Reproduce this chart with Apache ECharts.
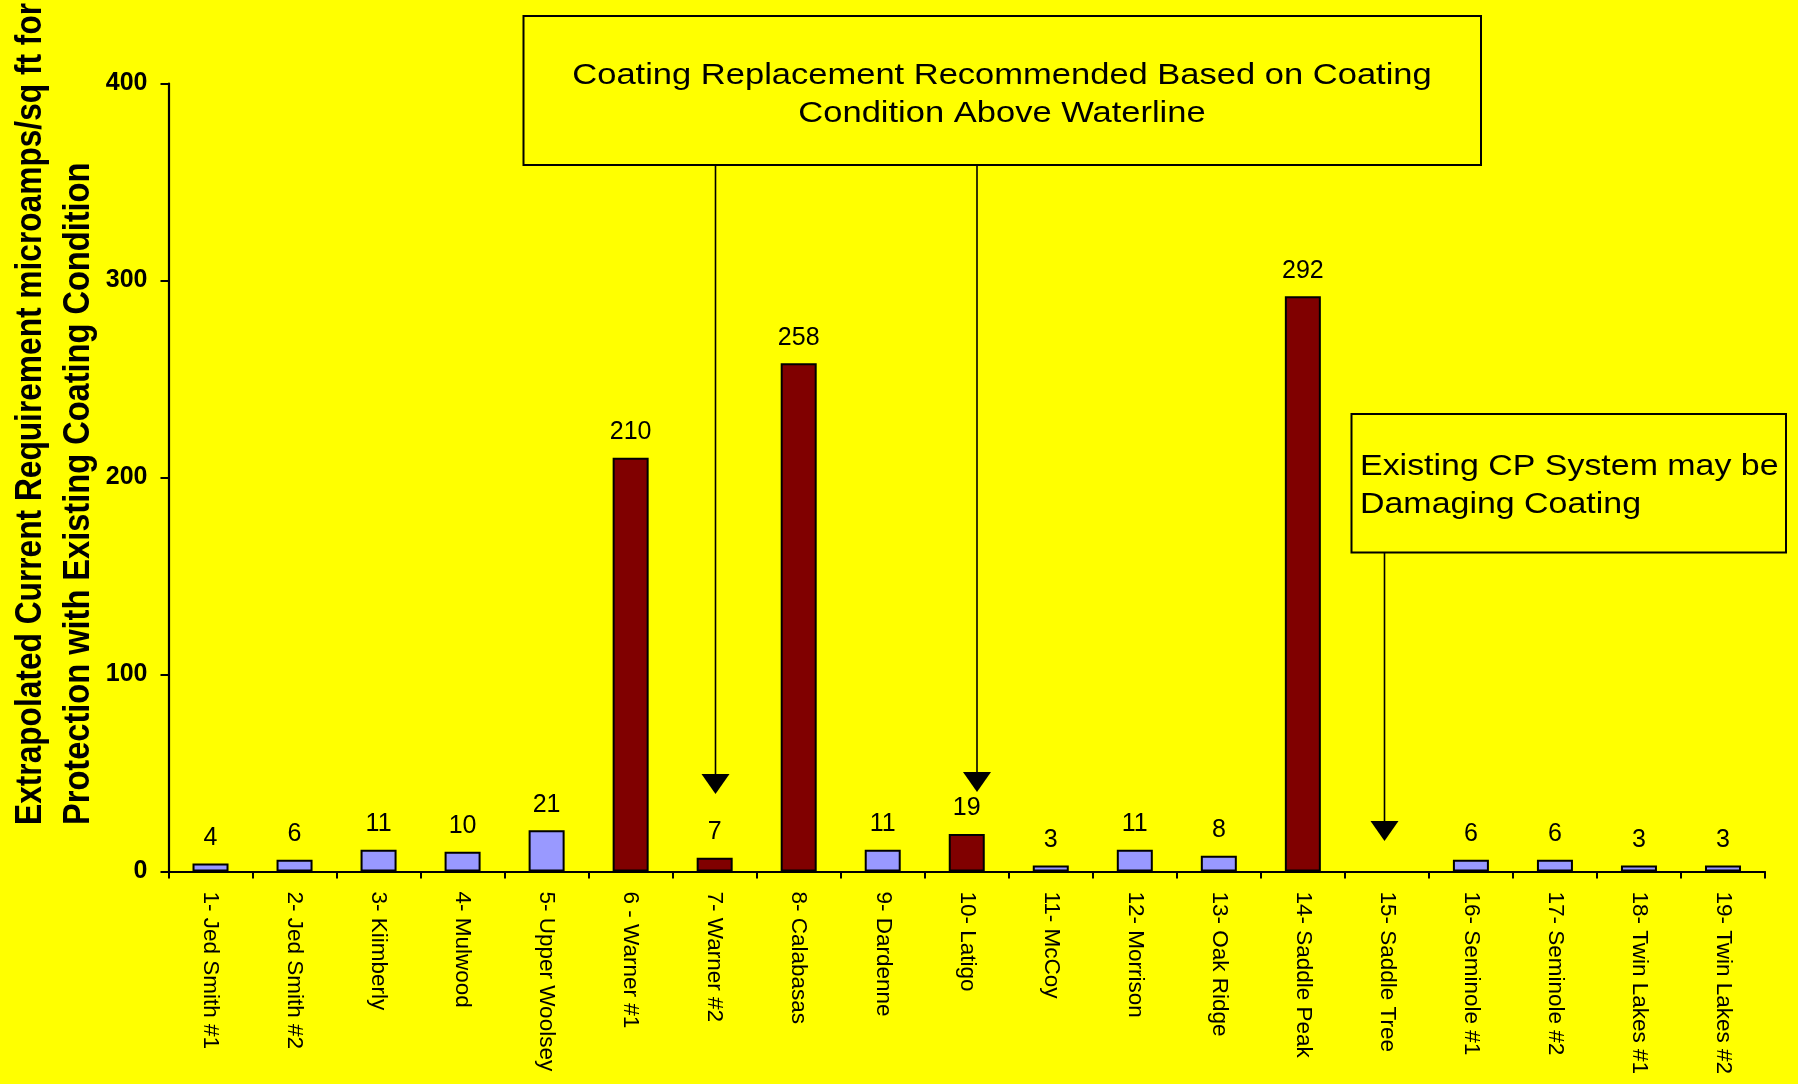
<!DOCTYPE html>
<html>
<head>
<meta charset="utf-8">
<title>Extrapolated Current Requirement</title>
<script src="https://cdn.jsdelivr.net/npm/echarts@6/dist/echarts.min.js"></script>
<style>
  html, body { margin: 0; padding: 0; background: #FFFF00; }
  #chart { width: 1798px; height: 1084px; }
</style>
</head>
<body>
<div id="chart"></div>
<script>
// Tank sites along the category axis
const categories = [
  '1- Jed Smith #1', '2- Jed Smith #2', '3- Kiimberly', '4- Mulwood',
  '5- Upper Woolsey', '6 - Warner #1', '7- Warner #2', '8- Calabasas',
  '9- Dardenne', '10- Latigo', '11- McCoy', '12- Morrison', '13- Oak Ridge',
  '14- Saddle Peak', '15- Saddle Tree', '16- Seminole #1', '17- Seminole #2',
  '18- Twin Lakes #1', '19- Twin Lakes #2'
];

// Extrapolated current requirement (microamps/sq ft); Saddle Tree has no value
const currentReq = [4, 6, 11, 10, 21, 210, 7, 258, 11, 19, 3, 11, 8, 292, null, 6, 6, 3, 3];

// Sites (by number) where coating replacement is recommended
const replaceSites = [6, 7, 8, 10, 14];

const yTicks = { min: 0, max: 400, interval: 100 };

const FONT = "'Liberation Sans', Arial, Helvetica, sans-serif";
const BLUE = '#9999FF';
const MAROON = '#800000';

const seriesData = currentReq.map((v, i) => ({
  value: v === null ? '-' : v,
  itemStyle: { color: replaceSites.includes(i + 1) ? MAROON : BLUE }
}));

const chart = echarts.init(document.getElementById('chart'), null, { renderer: 'canvas' });

// Down-pointing arrow: shaft from (x, y0) with head tip at (x, y1)
function arrow(x, y0, y1) {
  const headH = 20, headW = 28;
  return [
    { type: 'line', shape: { x1: x, y1: y0, x2: x, y2: y1 - headH + 2 },
      style: { stroke: '#000', lineWidth: 1.6 } },
    { type: 'polygon', shape: { points: [[x - headW / 2, y1 - headH], [x + headW / 2, y1 - headH], [x, y1]] },
      style: { fill: '#000' } }
  ];
}

function label(text, x, y, align, opts) {
  return Object.assign({
    type: 'text', x: x, y: y,
    style: { text: text, font: (opts && opts.font) || ('29px ' + FONT), fill: '#000',
             textAlign: align, textVerticalAlign: 'middle' }
  }, opts && opts.extra);
}

const option = {
  backgroundColor: '#FFFF00',
  animation: false,
  grid: { left: 168.5, right: 33, top: 83.5, bottom: 212.5, containLabel: false },
  xAxis: {
    type: 'category',
    data: categories,
    axisLine: { lineStyle: { color: '#000', width: 2.2 } },
    axisTick: { show: true, length: 7, lineStyle: { color: '#000', width: 2 } },
    axisLabel: {
      rotate: -90, margin: 20, interval: 0,
      color: '#000', fontFamily: FONT, fontSize: 22.5
    }
  },
  yAxis: {
    type: 'value',
    min: yTicks.min, max: yTicks.max, interval: yTicks.interval,
    axisLine: { show: true, lineStyle: { color: '#000', width: 2.2 } },
    axisTick: { show: true, length: 8, lineStyle: { color: '#000', width: 2 } },
    splitLine: { show: false },
    axisLabel: {
      margin: 21, color: '#000', fontFamily: FONT, fontSize: 25, fontWeight: 'bold'
    }
  },
  series: [{
    type: 'bar',
    data: seriesData,
    barWidth: 36,
    itemStyle: { borderColor: '#000', borderWidth: 2 },
    label: {
      show: true, position: 'top', distance: 13,
      color: '#000', fontFamily: FONT, fontSize: 25
    }
  }],
  graphic: [
    // Axis title, two lines reading bottom to top
    label('Extrapolated Current Requirement microamps/sq ft for', 31.5, 825, 'left', {
      font: 'bold 36px ' + FONT, extra: { rotation: Math.PI / 2, scaleX: 0.88 } }),
    label('Protection with Existing Coating Condition', 79.5, 825, 'left', {
      font: 'bold 36px ' + FONT, extra: { rotation: Math.PI / 2, scaleX: 0.905 } }),

    // Coating replacement callout
    { type: 'rect', shape: { x: 523.5, y: 16, width: 957.5, height: 149 },
      style: { fill: 'none', stroke: '#000', lineWidth: 2 } },
    label('Coating Replacement Recommended Based on Coating', 1002, 75.5, 'center',
      { extra: { scaleX: 1.19 } }),
    label('Condition Above Waterline', 1002, 114, 'center',
      { extra: { scaleX: 1.19 } }),
    ...arrow(715.5, 165, 794),
    ...arrow(977, 165, 792),

    // CP system callout
    { type: 'rect', shape: { x: 1351.5, y: 414, width: 434.5, height: 138.5 },
      style: { fill: 'none', stroke: '#000', lineWidth: 2 } },
    label('Existing CP System may be', 1360, 466.5, 'left', { extra: { scaleX: 1.17 } }),
    label('Damaging Coating', 1360, 505, 'left', { extra: { scaleX: 1.17 } }),
    ...arrow(1384.5, 552.5, 841)
  ]
};

chart.setOption(option);
</script>
</body>
</html>
